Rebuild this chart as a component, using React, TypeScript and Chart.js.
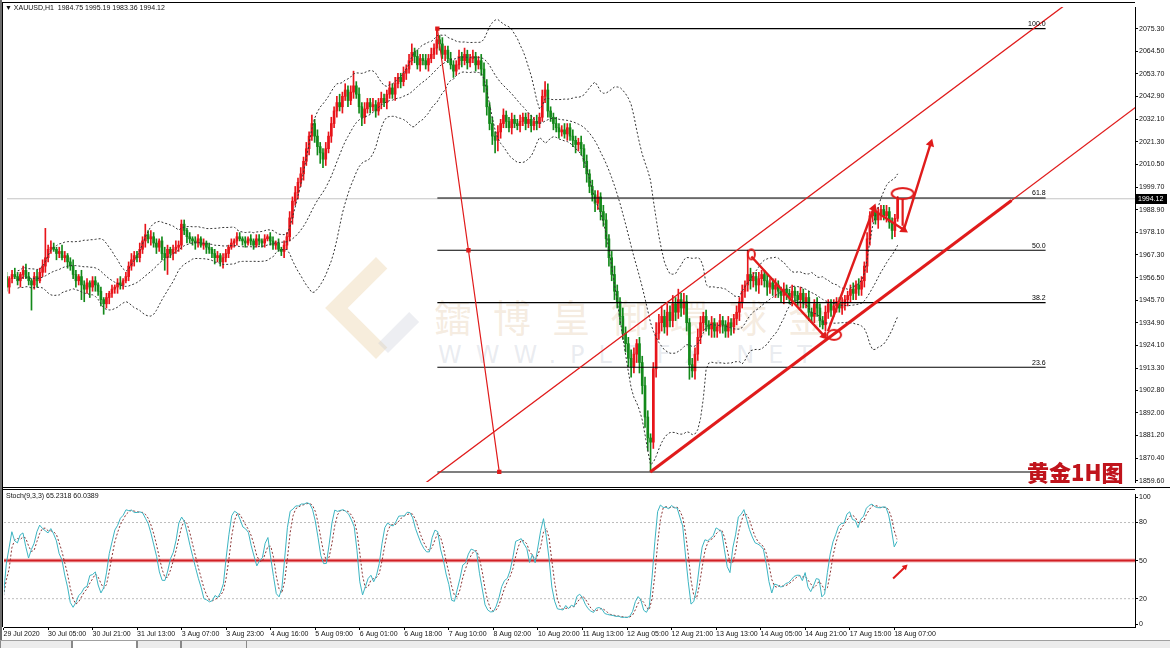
import React, { useEffect, useRef } from "react";
import { Chart, registerables } from "chart.js";

Chart.register(...registerables);

// ---------------- data ----------------
const timeLabels = [
  "29 Jul 2020", "30 Jul 05:00", "30 Jul 21:00", "31 Jul 13:00", "3 Aug 07:00", "3 Aug 23:00",
  "4 Aug 16:00", "5 Aug 09:00", "6 Aug 01:00", "6 Aug 18:00", "7 Aug 10:00", "8 Aug 02:00",
  "10 Aug 20:00", "11 Aug 13:00", "12 Aug 05:00", "12 Aug 21:00", "13 Aug 13:00", "14 Aug 05:00",
  "14 Aug 21:00", "17 Aug 15:00", "18 Aug 07:00",
];
const barsPerLabel = 16;

const firstOpen = 1957;
const closes = [
  1952, 1956, 1958, 1957, 1955, 1958, 1960, 1957, 1955, 1953, 1957, 1955, 1959, 1962, 1966, 1970,
  1971, 1970, 1968, 1969, 1966, 1967, 1964, 1962, 1958, 1955, 1957, 1953, 1951, 1954, 1952, 1955,
  1953, 1950, 1946, 1944, 1947, 1949, 1951, 1952, 1954, 1953, 1955, 1957, 1962, 1965, 1967, 1966,
  1970, 1974, 1977, 1975, 1976, 1973, 1971, 1974, 1968, 1966, 1970, 1968, 1970, 1971, 1972, 1982,
  1979, 1976, 1975, 1974, 1973, 1975, 1972, 1973, 1971, 1970, 1968, 1966, 1967, 1964, 1966, 1968,
  1971, 1973, 1974, 1976, 1975, 1974, 1973, 1975, 1974, 1972, 1975, 1974, 1973, 1975, 1976, 1974,
  1972, 1973, 1970, 1969, 1972, 1976, 1985, 1993, 1997, 2002, 2006, 2012, 2018, 2024, 2030, 2024,
  2019, 2016, 2013, 2018, 2024, 2030, 2036, 2040, 2038, 2043, 2046, 2041, 2045, 2048, 2044, 2038,
  2033, 2037, 2040, 2038, 2039, 2036, 2040, 2042, 2040, 2044, 2047, 2044, 2049, 2052, 2050, 2054,
  2056, 2060, 2064, 2062, 2058, 2061, 2060, 2058, 2061, 2063, 2066, 2070, 2068, 2063, 2065, 2061,
  2058, 2055, 2058, 2062, 2060, 2063, 2059, 2061, 2062, 2058, 2060, 2056, 2048, 2038, 2030, 2024,
  2022, 2026, 2030, 2034, 2031, 2028, 2032, 2030, 2029, 2031, 2033, 2030, 2032, 2029, 2031, 2030,
  2033, 2043, 2046, 2036, 2033, 2030, 2028, 2026, 2027, 2025, 2028, 2024, 2022, 2020, 2021, 2018,
  2012, 2006, 2000, 1996, 1992, 1995, 1988, 1984, 1975, 1966, 1958, 1950, 1945, 1938, 1930, 1925,
  1918, 1914, 1920, 1925, 1916, 1905, 1890, 1880, 1878, 1913, 1930, 1935, 1938, 1933, 1940, 1936,
  1944, 1940, 1946, 1942, 1945, 1935, 1915, 1912, 1920, 1928, 1935, 1938, 1934, 1932, 1935, 1931,
  1933, 1936, 1934, 1931, 1935, 1933, 1937, 1940, 1945, 1950, 1953, 1958, 1955, 1957, 1953, 1956,
  1958, 1955, 1952, 1954, 1951, 1953, 1950, 1948, 1951, 1949, 1947, 1950, 1948, 1946, 1949, 1945,
  1947, 1940, 1938, 1944, 1942, 1936, 1934, 1940, 1944, 1941, 1943, 1945, 1942, 1944, 1946, 1948,
  1951, 1949, 1953, 1951, 1955, 1962, 1975, 1986, 1988, 1984, 1987, 1989, 1986, 1988, 1983, 1979,
  1984.75, 1994.12,
];
const upperWicks = [
  2, 1, 2, 3, 2, 1, 2, 3, 2, 1, 2, 3, 2, 3, 14, 2,
  3, 2, 1, 2, 3, 2, 1, 2, 3, 2, 1, 3, 2, 2, 1, 2,
  2, 1, 2, 1, 2, 1, 2, 1, 2, 3, 1, 2, 2, 3, 2, 2,
  3, 2, 5, 2, 3, 2, 2, 1, 2, 3, 2, 1, 2, 3, 2, 2,
  2, 1, 2, 1, 2, 2, 1, 2, 1, 2, 1, 2, 2, 1, 2, 2,
  1, 2, 1, 2, 2, 1, 2, 1, 2, 1, 2, 2, 1, 2, 1, 2,
  2, 1, 2, 1, 2, 2, 3, 2, 3, 2, 3, 2, 3, 2, 4, 2,
  3, 2, 2, 3, 2, 3, 2, 3, 4, 2, 3, 2, 3, 7, 2, 3,
  2, 3, 2, 2, 3, 2, 2, 3, 2, 2, 3, 2, 3, 2, 2, 3,
  2, 3, 4, 2, 3, 2, 2, 3, 2, 3, 2, 5.3, 2, 3, 2, 2,
  3, 2, 2, 3, 2, 3, 2, 2, 3, 2, 2, 3, 3, 3, 2, 3,
  2, 3, 2, 3, 2, 2, 3, 2, 2, 3, 2, 2, 3, 2, 2, 3,
  2, 3, 4, 3, 2, 2, 3, 2, 2, 3, 2, 2, 3, 2, 2, 3,
  2, 3, 2, 3, 2, 3, 2, 3, 3, 2, 3, 4, 3, 2, 4, 3,
  3, 4, 3, 2, 3, 3, 4, 3, 2, 3, 5, 4, 5, 3, 4, 3,
  4, 3, 5, 3, 4, 3, 2, 3, 3, 4, 3, 2, 3, 2, 3, 2,
  2, 3, 2, 2, 3, 2, 2, 3, 2, 3, 2, 11.6, 3, 2, 2, 3,
  2, 2, 3, 2, 2, 3, 2, 2, 3, 2, 2, 3, 2, 2, 3, 2,
  2, 3, 2, 2, 3, 2, 2, 3, 2, 2, 3, 2, 2, 3, 2, 2,
  2, 3, 2, 3, 2, 2, 3, 2, 2, 1.3, 3, 2, 2, 3, 2, 2,
  2, 1.07,
];
const lowerWicks = [
  2, 3, 2, 1, 2, 3, 2, 1, 2, 12, 2, 3, 1, 2, 3, 2,
  2, 1, 3, 2, 1, 2, 3, 2, 2, 3, 2, 7, 6, 2, 5, 2,
  3, 2, 3, 5, 2, 3, 2, 2, 3, 2, 2, 1, 2, 2, 3, 2,
  2, 2, 3, 2, 3, 2, 3, 2, 3, 6, 8, 2, 3, 2, 2, 2,
  2, 3, 2, 2, 3, 2, 1, 2, 3, 2, 2, 3, 2, 2, 3, 2,
  2, 1, 2, 2, 1, 2, 2, 1, 2, 2, 1, 2, 2, 2, 1, 2,
  2, 2, 1, 2, 3, 2, 2, 3, 2, 3, 2, 3, 2, 3, 2, 3,
  4, 5, 4, 3, 2, 3, 2, 3, 2, 3, 2, 3, 2, 3, 2, 3,
  4, 3, 2, 3, 2, 3, 2, 3, 2, 3, 2, 2, 3, 2, 3, 2,
  3, 2, 2, 3, 2, 3, 2, 2, 3, 2, 2, 3, 3, 2, 3, 2,
  2, 3, 2, 2, 3, 2, 3, 2, 2, 3, 2, 3, 3, 4, 3, 4,
  6, 5, 3, 2, 3, 2, 3, 2, 2, 3, 2, 3, 2, 3, 2, 3,
  2, 2, 3, 3, 2, 3, 2, 3, 2, 2, 3, 2, 3, 4, 3, 3,
  3, 4, 3, 3, 4, 3, 4, 3, 4, 4, 3, 4, 3, 4, 3, 4,
  4, 5, 3, 4, 5, 4, 5, 6, 14, 3, 4, 3, 4, 3, 4, 3,
  3, 4, 3, 4, 3, 4, 7, 3, 4, 3, 3, 4, 3, 3, 4, 3,
  3, 3, 4, 3, 3, 4, 3, 3, 4, 3, 3, 3, 4, 3, 3, 4,
  3, 3, 4, 3, 3, 4, 3, 3, 4, 3, 3, 4, 3, 3, 4, 3,
  3, 4, 3, 3, 4, 3, 2, 3, 3, 3, 3, 3, 2, 3, 3, 3,
  3, 3, 3, 3, 3, 3, 3, 3, 3, 2, 4, 3, 2, 3, 3, 4,
  3, 1.39,
];

const priceTicks = [
  2075.3, 2064.5, 2053.7, 2042.9, 2032.1, 2021.3, 2010.5, 1999.7, 1988.9, 1978.1, 1967.3,
  1956.5, 1945.7, 1934.9, 1924.1, 1913.3, 1902.8, 1892.0, 1881.2, 1870.4, 1859.6,
];
const stochTicks = [0, 20, 50, 80, 100];
const stochLevels = [20, 80];
const stochRedLevel = 50;
const lastPrice = 1994.12;

const fibLevels = [100, 61.8, 50, 38.2, 23.6, 0];
const fibHigh = 2075.3;
const fibLow = 1863.8;
const fibSpan = [155.2, 374.3];
const fibAnchor = [
  [155.2, 2075.3],
  [166.4, 1969.55],
  [177.5, 1863.8],
];

const channelUpper = [[150, 1857.6], [385, 2090.2]];
const channelLower = [[231.9, 1863.8], [410, 2041.0]];
const channelLowerBold = [[231.9, 1863.8], [362, 1993.3]];
const arrowPaths = [
  [[268.3, 1966.6], [294.5, 1928.7]],
  [[295.9, 1931.0], [312.4, 1989.6]],
  [[312.4, 1988.6], [323.2, 1979.3]],
  [[323.2, 1979.3], [332.9, 2020.5]],
];
const stemPath = [[322.8, 1994.3], [322.8, 1981.2]];
const ellipseMarks = [
  { bar: 268.3, price: 1967.6, w: 7, h: 10 },
  { bar: 298.1, price: 1929.2, w: 14, h: 10 },
  { bar: 322.8, price: 1996.6, w: 22, h: 11 },
];
const stochArrow = [[319.6, 35.9], [323.9, 45.0]];

// axis ranges
const X_MIN = 0.18;
const X_MAX = 406.5;
const Y_MIN = 1859.0;
const Y_MAX = 2085.6;
const S_MIN = -2.3;
const S_MAX = 102.3;

// ---------------- derived ----------------
const opens = closes.map((c, i) => (i === 0 ? firstOpen : closes[i - 1]));
const highs = closes.map((c, i) => Math.max(opens[i], c) + upperWicks[i]);
const lows = closes.map((c, i) => Math.min(opens[i], c) - lowerWicks[i]);

function bollinger(period: number, dev: number) {
  const mid: any[] = [], up: any[] = [], lo: any[] = [];
  for (let i = 0; i < closes.length; i++) {
    if (i < 4) continue;
    const s = Math.max(0, i - period + 1);
    const w = closes.slice(s, i + 1);
    const m = w.reduce((a, b) => a + b, 0) / w.length;
    const sd = Math.sqrt(w.reduce((a, b) => a + (b - m) * (b - m), 0) / w.length);
    mid.push({ x: i, y: m });
    up.push({ x: i, y: m + dev * sd });
    lo.push({ x: i, y: m - dev * sd });
  }
  return { mid, up, lo };
}

function stochastic(kP: number, slow: number, dP: number) {
  const num: number[] = [], den: number[] = [];
  for (let i = 0; i < closes.length; i++) {
    const s = Math.max(0, i - kP + 1);
    const hh = Math.max(...highs.slice(s, i + 1));
    const ll = Math.min(...lows.slice(s, i + 1));
    num.push(closes[i] - ll);
    den.push(hh - ll);
  }
  const k: number[] = [];
  for (let i = 0; i < closes.length; i++) {
    const s = Math.max(0, i - slow + 1);
    let sn = 0, sd = 0;
    for (let j = s; j <= i; j++) { sn += num[j]; sd += den[j]; }
    k.push(sd > 0 ? (100 * sn) / sd : 50);
  }
  const d: number[] = [];
  for (let i = 0; i < closes.length; i++) {
    const s = Math.max(0, i - dP + 1);
    const w = k.slice(s, i + 1);
    d.push(w.reduce((a, b) => a + b, 0) / w.length);
  }
  return { k, d };
}

const RED = "#e8141a";
const GREEN = "#13891a";
const MARK = "#e01b1b";
const FONT = "'Liberation Sans', Arial, sans-serif";

function pts(p: number[][]) {
  return p.map(([x, y]) => ({ x, y }));
}

function ellipseImage(w: number, h: number) {
  const c = document.createElement("canvas");
  c.width = w + 4;
  c.height = h + 4;
  const g = c.getContext("2d")!;
  g.strokeStyle = MARK;
  g.lineWidth = 2;
  g.beginPath();
  g.ellipse(c.width / 2, c.height / 2, w / 2, h / 2, 0, 0, Math.PI * 2);
  g.stroke();
  return c;
}

function arrowRotation(path: number[][], yKey: string) {
  return (ctx: any) => {
    const xs = ctx.chart.scales.x;
    const ys = ctx.chart.scales[yKey];
    const dx = xs.getPixelForValue(path[1][0]) - xs.getPixelForValue(path[0][0]);
    const dy = ys.getPixelForValue(path[1][1]) - ys.getPixelForValue(path[0][1]);
    return (Math.atan2(dx, -dy) * 180) / Math.PI;
  };
}

function arrowDataset(path: number[][], yKey: string, width: number, head: number, order: number) {
  return {
    type: "line",
    data: pts(path),
    borderColor: MARK,
    borderWidth: width,
    pointRadius: [0, head],
    pointStyle: "triangle",
    pointBackgroundColor: MARK,
    pointBorderColor: MARK,
    pointBorderWidth: 0,
    pointRotation: arrowRotation(path, yKey),
    order,
  };
}

function lineDataset(path: number[][], color: string, width: number, order: number, dash: number[] = []) {
  return {
    type: "line",
    data: pts(path),
    borderColor: color,
    borderWidth: width,
    borderDash: dash,
    pointRadius: 0,
    order,
  };
}

const overlayPlugin = {
  id: "mtOverlay",
  afterDatasetsDraw(chart: any) {
    const { ctx, scales } = chart;
    const xs = scales.x, ys = scales.y;
    ctx.save();
    ctx.font = `7px ${FONT}`;
    ctx.fillStyle = "#000";
    ctx.textAlign = "right";
    ctx.textBaseline = "bottom";
    const xr = xs.getPixelForValue(fibSpan[1]);
    fibLevels.forEach((lv) => {
      if (lv === 0) return;
      const price = fibLow + ((fibHigh - fibLow) * lv) / 100;
      ctx.fillText(lv.toFixed(1), xr, ys.getPixelForValue(price) - 1);
    });
    const py = Math.round(ys.getPixelForValue(lastPrice));
    const ax = chart.chartArea.right;
    ctx.fillStyle = "#000";
    ctx.fillRect(ax + 1, py - 5, 31, 10);
    ctx.fillStyle = "#fff";
    ctx.textAlign = "left";
    ctx.textBaseline = "middle";
    ctx.fillText(lastPrice.toFixed(2), ax + 3, py + 0.5);
    ctx.restore();
  },
};

function mainConfig(): any {
  const colors = closes.map((c, i) => (c >= opens[i] ? RED : GREEN));
  const bb = bollinger(20, 2);
  const fibLines = fibLevels.map((lv) => {
    const price = fibLow + ((fibHigh - fibLow) * lv) / 100;
    return lineDataset([[fibSpan[0], price], [fibSpan[1], price]], "#000", 1.1, 12);
  });
  const datasets: any[] = [
    lineDataset([[X_MIN, lastPrice], [X_MAX, lastPrice]], "#c4c4c4", 1, 30),
    {
      type: "bar",
      data: closes.map((c, i) => ({ x: i, y: [lows[i], highs[i]] })),
      backgroundColor: colors,
      barThickness: 1,
      grouped: false,
      order: 21,
    },
    {
      type: "bar",
      data: closes.map((c, i) => ({ x: i, y: [opens[i], c] })),
      backgroundColor: colors,
      barThickness: 2,
      minBarLength: 1,
      grouped: false,
      order: 20,
    },
    { type: "line", data: bb.up, borderColor: "#333", borderWidth: 1, borderDash: [2, 2], pointRadius: 0, order: 15 },
    { type: "line", data: bb.mid, borderColor: "#333", borderWidth: 1, borderDash: [2, 2], pointRadius: 0, order: 15 },
    { type: "line", data: bb.lo, borderColor: "#333", borderWidth: 1, borderDash: [2, 2], pointRadius: 0, order: 15 },
    ...fibLines,
    {
      type: "line",
      data: pts(fibAnchor),
      borderColor: MARK,
      borderWidth: 1.2,
      pointRadius: 2.2,
      pointStyle: "rect",
      pointBackgroundColor: MARK,
      pointBorderColor: MARK,
      order: 8,
    },
    lineDataset(channelUpper, MARK, 1.3, 6),
    lineDataset(channelLower, MARK, 1.3, 6),
    lineDataset(channelLowerBold, MARK, 3, 5),
    ...arrowPaths.map((p) => arrowDataset(p, "y", 2.4, 5, 2)),
    lineDataset(stemPath, MARK, 2.2, 2),
    ...ellipseMarks.map((e) => ({
      type: "line",
      data: [{ x: e.bar, y: e.price }],
      pointRadius: 6,
      pointStyle: ellipseImage(e.w, e.h),
      showLine: false,
      order: 1,
    })),
  ];
  return {
    type: "bar",
    data: { datasets },
    plugins: [overlayPlugin],
    options: {
      animation: false,
      responsive: false,
      devicePixelRatio: 1,
      events: [],
      layout: { padding: { left: 3, top: 3, right: 0, bottom: 2 } },
      plugins: { legend: { display: false }, tooltip: { enabled: false } },
      scales: {
        x: { type: "linear", display: false, min: X_MIN, max: X_MAX, offset: false },
        y: {
          type: "linear",
          position: "right",
          min: Y_MIN,
          max: Y_MAX,
          afterBuildTicks: (s: any) => {
            s.ticks = priceTicks.map((v) => ({ value: v }));
          },
          afterFit: (s: any) => {
            s.width = 35;
          },
          ticks: {
            autoSkip: false,
            padding: 1,
            color: "#111",
            font: { size: 7, family: FONT },
            callback: (v: any) => Number(v).toFixed(2),
          },
          grid: { drawOnChartArea: false, drawTicks: true, tickLength: 3, color: "#000" },
          border: { display: true, color: "#000", width: 1 },
        },
      },
    },
  };
}

function stochConfig(): any {
  const st = stochastic(9, 3, 3);
  const datasets: any[] = [
    ...stochLevels.map((lv) => lineDataset([[X_MIN, lv], [X_MAX, lv]], "#bdbdbd", 1, 10, [2, 2])),
    lineDataset([[X_MIN, stochRedLevel], [X_MAX, stochRedLevel]], "#f2b8b8", 4, 11),
    lineDataset([[X_MIN, stochRedLevel], [X_MAX, stochRedLevel]], "#d21f24", 2, 9),
    {
      type: "line",
      data: st.d.map((v, i) => ({ x: i, y: v })),
      borderColor: "#8a3434",
      borderWidth: 1,
      borderDash: [2, 2],
      pointRadius: 0,
      order: 4,
    },
    {
      type: "line",
      data: st.k.map((v, i) => ({ x: i, y: v })),
      borderColor: "#3db5c2",
      borderWidth: 1,
      pointRadius: 0,
      order: 3,
    },
    arrowDataset(stochArrow, "y", 2, 3.5, 1),
  ];
  return {
    type: "line",
    data: { datasets },
    options: {
      animation: false,
      responsive: false,
      devicePixelRatio: 1,
      events: [],
      layout: { padding: { left: 3, top: 1, right: 0, bottom: 0 } },
      plugins: { legend: { display: false }, tooltip: { enabled: false } },
      scales: {
        x: {
          type: "linear",
          min: X_MIN,
          max: X_MAX,
          offset: false,
          afterBuildTicks: (s: any) => {
            s.ticks = timeLabels.map((_, k) => ({ value: k * barsPerLabel }));
          },
          afterFit: (s: any) => {
            s.height = 13;
          },
          ticks: {
            autoSkip: false,
            maxRotation: 0,
            minRotation: 0,
            align: "start",
            padding: 0,
            color: "#111",
            font: { size: 7, family: FONT },
            callback: (v: any) => timeLabels[Math.round(Number(v) / barsPerLabel)] ?? "",
          },
          grid: { drawOnChartArea: false, drawTicks: true, tickLength: 3, color: "#000" },
          border: { display: true, color: "#000", width: 1 },
        },
        y: {
          type: "linear",
          position: "right",
          min: S_MIN,
          max: S_MAX,
          afterBuildTicks: (s: any) => {
            s.ticks = stochTicks.map((v) => ({ value: v }));
          },
          afterFit: (s: any) => {
            s.width = 35;
          },
          ticks: { autoSkip: false, padding: 1, color: "#111", font: { size: 7, family: FONT } },
          grid: { drawOnChartArea: false, drawTicks: true, tickLength: 3, color: "#000" },
          border: { display: true, color: "#000", width: 1 },
        },
      },
    },
  };
}

export default function App() {
  const mainRef = useRef<HTMLCanvasElement>(null);
  const stochRef = useRef<HTMLCanvasElement>(null);

  useEffect(() => {
    document.body.style.margin = "0";
    const a = new Chart(mainRef.current!, mainConfig());
    const b = new Chart(stochRef.current!, stochConfig());
    return () => {
      a.destroy();
      b.destroy();
    };
  }, []);

  const small: React.CSSProperties = {
    position: "absolute",
    fontFamily: FONT,
    fontSize: 7,
    color: "#111",
    whiteSpace: "nowrap",
    lineHeight: "9px",
  };

  return (
    <div style={{ position: "relative", width: 1170, height: 648, background: "#fff", overflow: "hidden" }}>
      {/* watermark logo + text */}
      <div style={{ position: "absolute", left: 340, top: 272, width: 72, height: 72, transform: "rotate(45deg)", borderLeft: "16px solid rgba(232,200,150,0.33)", borderBottom: "16px solid rgba(232,200,150,0.33)", boxSizing: "border-box" }} />
      <div style={{ position: "absolute", left: 366, top: 300, width: 44, height: 44, transform: "rotate(45deg)", borderRight: "14px solid rgba(200,204,215,0.33)", boxSizing: "border-box" }} />
      <div
        style={{
          position: "absolute", left: 434, top: 288, fontFamily: "'Noto Sans CJK TC', sans-serif",
          fontSize: 38, letterSpacing: 21, color: "rgba(226,196,160,0.32)", whiteSpace: "nowrap",
        }}
      >
        鐳博皇御環球金
      </div>
      <div
        style={{
          position: "absolute", left: 438, top: 341, fontFamily: "'DejaVu Sans', sans-serif",
          fontSize: 24, letterSpacing: 14, color: "rgba(190,196,210,0.32)", whiteSpace: "nowrap",
        }}
      >
        WWW.PLBFX.NET
      </div>

      <canvas ref={mainRef} width={1170} height={489} style={{ position: "absolute", left: 0, top: 0 }} />
      <canvas ref={stochRef} width={1170} height={151} style={{ position: "absolute", left: 0, top: 489 }} />

      {/* window frame */}
      <div style={{ position: "absolute", left: 0, top: 0, width: 2, height: 640, background: "#6e6e6e" }} />
      <div style={{ position: "absolute", left: 2, top: 2, width: 1133, height: 1, background: "#000" }} />
      <div style={{ position: "absolute", left: 2, top: 2, width: 1, height: 625, background: "#000" }} />
      <div style={{ position: "absolute", left: 2, top: 487, width: 1168, height: 1, background: "#000" }} />
      <div style={{ position: "absolute", left: 2, top: 489, width: 1133, height: 1, background: "#000" }} />

      {/* bottom tab strip */}
      <div style={{ position: "absolute", left: 0, top: 640, width: 1170, height: 8, background: "#ececec", borderTop: "1px solid #a0a0a0" }} />
      {[0, 72, 137, 181].map((l, i) => (
        <div key={i} style={{ position: "absolute", left: l, top: 641, width: [72, 65, 44, 66][i], height: 7, boxSizing: "border-box", borderLeft: "1px solid #888", borderRight: "1px solid #888", background: i === 1 ? "#fff" : "#ececec" }} />
      ))}

      {/* header texts */}
      <div style={{ ...small, left: 5, top: 3 }}>▼ XAUUSD,H1&nbsp; 1984.75 1995.19 1983.36 1994.12</div>
      <div style={{ ...small, left: 6, top: 491 }}>Stoch(9,3,3) 65.2318 60.0389</div>

      {/* annotation */}
      <div
        style={{
          position: "absolute", left: 1027, top: 457, fontFamily: "'Noto Sans CJK SC', sans-serif",
          fontWeight: 900, fontSize: 22, lineHeight: "28px", color: "#c0141c", whiteSpace: "nowrap",
        }}
      >
        黄金1H图
      </div>
    </div>
  );
}
